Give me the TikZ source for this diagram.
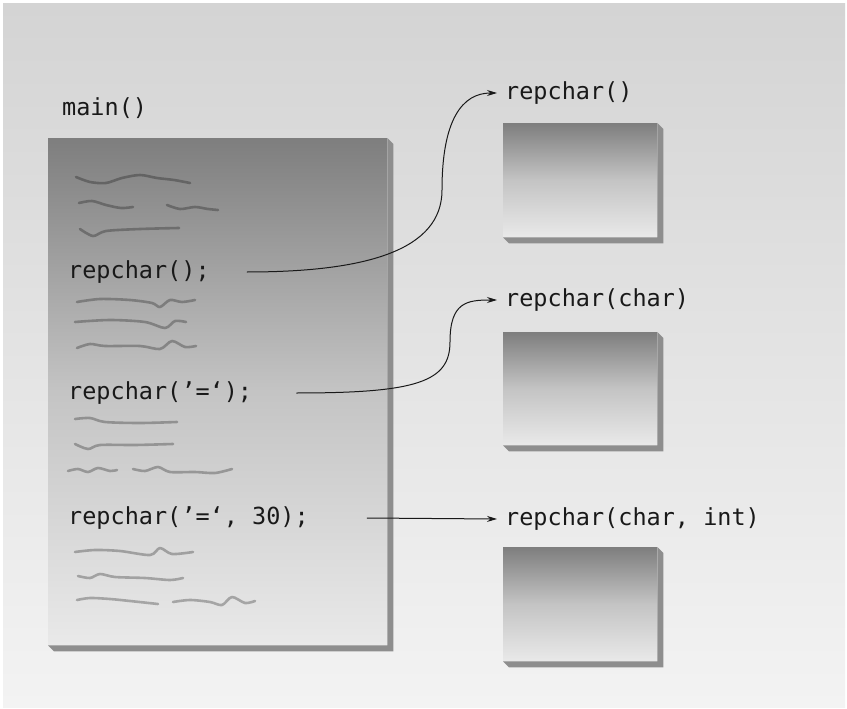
\documentclass[tikz,border=0pt]{standalone}
\usepackage{fontspec}
\setmonofont{DejaVu Sans Mono}
\usetikzlibrary{arrows.meta, positioning}

\definecolor{bgtop}{HTML}{D4D4D4}
\definecolor{bgbot}{HTML}{F3F3F3}
\definecolor{slabedge}{HTML}{8E8E8E}
\definecolor{facetop}{HTML}{7E7E7E}
\definecolor{facemid}{HTML}{C4C4C4}
\definecolor{facebot}{HTML}{E9E9E9}

\begin{document}
\begin{tikzpicture}[
    x=1pt, y=-1pt,
    code/.style={font=\ttfamily\fontsize{23.5}{28}\selectfont, anchor=west, inner sep=0pt, text=black!90},
    fnbox/.style={rectangle, anchor=north west, inner sep=0pt, top color=facetop, bottom color=facebot, middle color=facemid},
    scribble/.style={draw=black, draw opacity=0.27, line width=2.6pt, line cap=round, line join=round},
    call/.style={-{Stealth[length=10pt, width=6pt]}, line width=1pt, black!90}
]

% background
\useasboundingbox (0,0) rectangle (847,709);
\fill[white] (0,0) rectangle (847,709);
\shade[top color=bgtop, bottom color=bgbot] (3,4) rectangle (845,707);

% caller: main()
\node[code] (mainlbl) at (62,108) {main()};
\node[fnbox, minimum width=339pt, minimum height=507pt] (body) at (48,138) {};

% the three overloaded functions
\node[fnbox, minimum width=154pt, minimum height=114pt] (body1) at (503,123) {};
\node[fnbox, minimum width=154pt, minimum height=113pt] (body2) at (503,332) {};
\node[fnbox, minimum width=154pt, minimum height=114pt] (body3) at (503,547) {};

% 3d edges
\foreach \b in {body,body1,body2,body3}
  \fill[slabedge] (\b.north east) -- ++(6,6) -- ([shift={(6,6)}]\b.south east)
    -- ([shift={(6,6)}]\b.south west) -- (\b.south west) -- (\b.south east) -- cycle;

% scribbled code lines
\draw[scribble] plot[smooth] coordinates {(76,177) (90,182) (106,183) (122,178) (140,175) (157,178) (174,180) (190,183)};
\draw[scribble] plot[smooth] coordinates {(79,203) (92,201) (106,205) (121,208) (133,207)};
\draw[scribble] plot[smooth] coordinates {(167,205) (180,209) (195,207) (208,209) (218,210)};
\draw[scribble] plot[smooth] coordinates {(80,229) (93,236) (106,231) (140,229) (179,228)};

\draw[scribble] plot[smooth] coordinates {(77,302) (100,299) (130,300) (152,303) (160,307) (170,300) (182,302) (195,300)};
\draw[scribble] plot[smooth] coordinates {(75,322) (110,320) (145,322) (165,328) (175,321) (186,322)};
\draw[scribble] plot[smooth] coordinates {(77,348) (90,344) (105,346) (140,346) (160,349) (172,341) (185,347) (196,346)};

\draw[scribble] plot[smooth] coordinates {(75,419) (90,418) (105,422) (140,423) (177,422)};
\draw[scribble] plot[smooth] coordinates {(75,444) (88,449) (100,445) (135,445) (173,444)};
\draw[scribble] plot[smooth] coordinates {(68,471) (78,469) (88,472) (98,468) (110,471) (117,470)};
\draw[scribble] plot[smooth] coordinates {(133,469) (145,471) (158,467) (170,472) (195,472) (215,473) (232,469)};

\draw[scribble] plot[smooth] coordinates {(75,552) (95,550) (120,551) (150,555) (160,548) (172,554) (193,552)};
\draw[scribble] plot[smooth] coordinates {(78,576) (90,578) (100,574) (115,577) (145,578) (170,580) (183,578)};
\draw[scribble] plot[smooth] coordinates {(77,600) (90,598) (110,599) (130,601) (158,604)};
\draw[scribble] plot[smooth] coordinates {(173,602) (190,600) (210,602) (222,605) (232,597) (245,603) (255,601)};

% calls
\node[code] (call1) at (68,272) {repchar();};
\node[code] (call2) at (68,393) {repchar(’=‘);};
\node[code] (call3) at (68,518) {repchar(’=‘, 30);};

% function names
\node[code] (fn1) at (505,93) {repchar()};
\node[code] (fn2) at (505,300) {repchar(char)};
\node[code] (fn3) at (505,519) {repchar(char, int)};

% connectors
\draw[call] ([xshift=37pt]call1.east) .. controls +(120,0) and +(0,60) .. (442,190)
  .. controls +(0,-70) and +(-35,0) .. ([xshift=-8pt]fn1.west);
\draw[call] ([xshift=44pt]call2.east) .. controls +(120,0) and +(0,40) .. (450,342)
  .. controls +(0,-40) and +(-30,0) .. ([xshift=-8pt]fn2.west);
\draw[call] ([xshift=58pt]call3.east) -- ([xshift=-8pt]fn3.west);

\end{tikzpicture}
\end{document}
